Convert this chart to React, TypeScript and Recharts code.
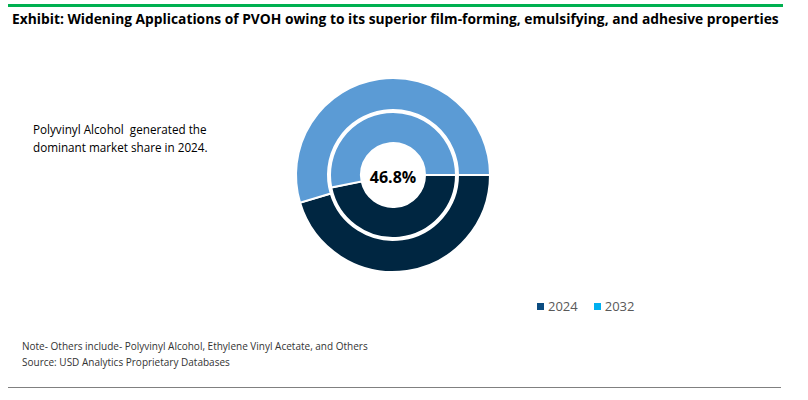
import { PieChart, Pie, Cell } from "recharts";

const segments = ["Polyvinyl Alcohol", "Others"];
const share2024 = [46.8, 53.2];
const share2032 = [45.4, 54.6];
const sliceColors = ["#002641", "#5B9BD5"];
const legendYears = ["2024", "2032"];
const legendColors = ["#0B4C80", "#00B0F0"];
const centerText = "46.8%";

const CX = 393;
const CY = 175;

const inner = segments.map((name, i) => ({ name, value: share2024[i] }));
const outer = segments.map((name, i) => ({ name, value: share2032[i] }));

function YearLegend() {
  return (
    <div style={{ position: "absolute", left: 537, top: 297, display: "flex", gap: 16, fontSize: 13, color: "#595959" }}>
      {legendYears.map((y, i) => (
        <span key={y} style={{ display: "flex", alignItems: "center" }}>
          <span style={{ width: 7, height: 7, background: legendColors[i], marginRight: 4, display: "inline-block" }} />
          {y}
        </span>
      ))}
    </div>
  );
}

export default function App() {
  return (
    <div style={{ position: "absolute", left: 0, top: 0, width: 808, height: 400, background: "#fff", fontFamily: "'Open Sans', sans-serif" }}>
      <div style={{ position: "absolute", left: 0, top: 0 }}>
        <PieChart width={808} height={400} margin={{ top: 0, right: 0, bottom: 0, left: 0 }}>
          <rect x={8} y={4} width={775} height={3} fill="#00B050" />
          <Pie
            data={inner}
            dataKey="value"
            cx={CX}
            cy={CY}
            innerRadius={32}
            outerRadius={63}
            startAngle={0}
            endAngle={-360}
            stroke="#fff"
            strokeWidth={2}
            isAnimationActive={false}
          >
            {inner.map((d, i) => (
              <Cell key={d.name} fill={sliceColors[i]} />
            ))}
          </Pie>
          <Pie
            data={outer}
            dataKey="value"
            cx={CX}
            cy={CY}
            innerRadius={65}
            outerRadius={97}
            startAngle={0}
            endAngle={-360}
            stroke="#fff"
            strokeWidth={2}
            isAnimationActive={false}
          >
            {outer.map((d, i) => (
              <Cell key={d.name} fill={sliceColors[i]} />
            ))}
          </Pie>
        </PieChart>
      </div>
      <div
        style={{
          position: "absolute",
          left: CX - 40,
          top: CY - 9,
          width: 80,
          textAlign: "center",
          fontSize: 16,
          fontWeight: 700,
          color: "#000",
        }}
      >
        {centerText}
      </div>
      <YearLegend />
      <div style={{ position: "absolute", left: 8, top: 5, width: 775, height: 2, background: "#00B050" }} />
      <div style={{ position: "absolute", left: 12, top: 9, fontSize: 13.8, fontWeight: 700, color: "#000", whiteSpace: "nowrap" }}>
        Exhibit: Widening Applications of PVOH owing to its superior film-forming, emulsifying, and adhesive properties
      </div>
      <div style={{ position: "absolute", left: 33, top: 120, fontSize: 11.7, lineHeight: "18px", color: "#000", whiteSpace: "pre" }}>
        {"Polyvinyl Alcohol  generated the\ndominant market share in 2024."}
      </div>
      <div style={{ position: "absolute", left: 22, top: 338, fontSize: 10, lineHeight: "16px", color: "#333", whiteSpace: "pre" }}>
        {"Note- Others include- Polyvinyl Alcohol, Ethylene Vinyl Acetate, and Others\nSource: USD Analytics Proprietary Databases"}
      </div>
      <div style={{ position: "absolute", left: 8, top: 387, width: 773, height: 1, background: "#808080" }} />
    </div>
  );
}
